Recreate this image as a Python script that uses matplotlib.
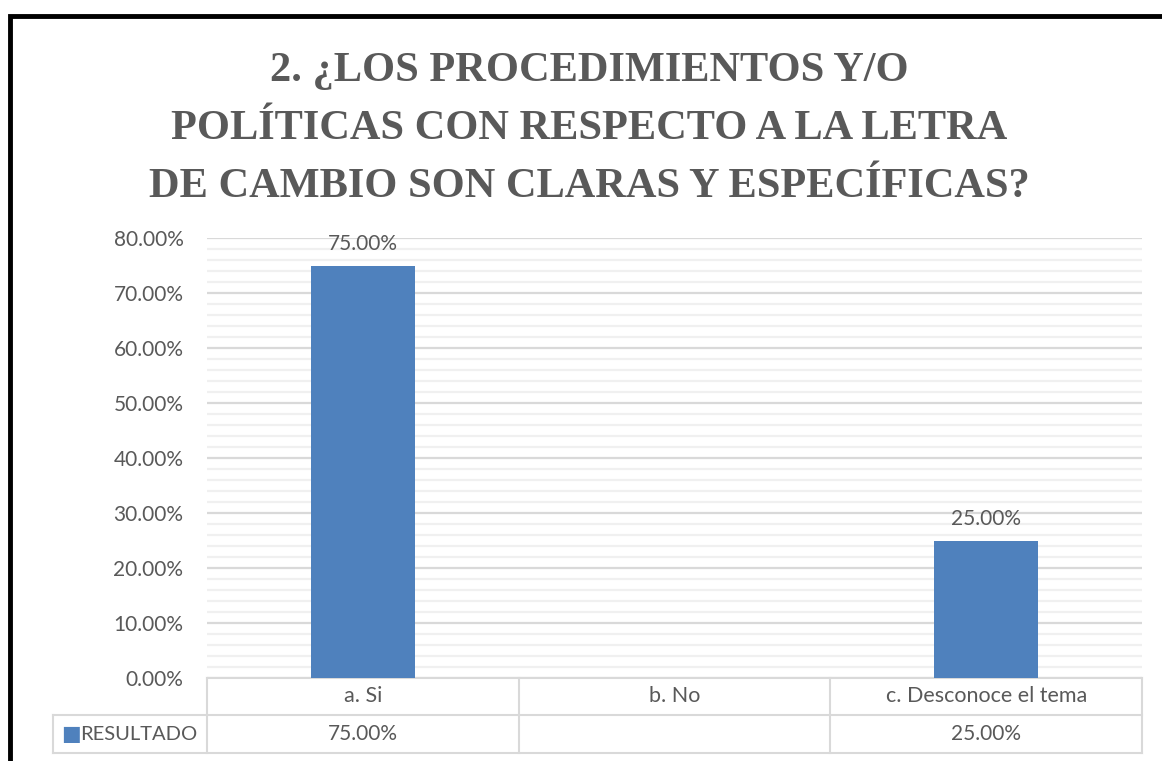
import matplotlib
matplotlib.use("Agg")
import matplotlib.pyplot as plt
from matplotlib.patches import Rectangle
from matplotlib.lines import Line2D
from matplotlib.ticker import MultipleLocator, FuncFormatter
import matplotlib.transforms as mtransforms

# data
title = "2. ¿LOS PROCEDIMIENTOS Y/O\nPOLÍTICAS CON RESPECTO A LA LETRA\nDE CAMBIO SON CLARAS Y ESPECÍFICAS?"
categories = ["a. Si", "b. No", "c. Desconoce el tema"]
values = [75.0, None, 25.0]
series_name = "RESULTADO"

bar_color = "#4f81bd"
text_color = "#595959"
grid_major = "#d9d9d9"
grid_minor = "#f0f0f0"
font = "Lato"

W, H = 1162, 761
fig = plt.figure(figsize=(W / 100, H / 100), dpi=100)
fig.patch.set_facecolor("white")

# black frame (only left and top edges fall inside the picture)
fig.add_artist(Rectangle((10 / W, -0.1), 1.2, 1 - 16 / H + 0.1, transform=fig.transFigure,
                         fill=False, edgecolor="black", linewidth=3.5))

# plot area in pixels
left, right, top, bottom = 207, 1142, 238, 678
ax = fig.add_axes([left / W, 1 - bottom / H, (right - left) / W, (bottom - top) / H])

for i, v in enumerate(values):
    if v is None:
        continue
    ax.bar(i, v, width=0.335, color=bar_color, zorder=3)
    ax.annotate(f"{v:.2f}%", (i, v), xytext=(0, 8), textcoords="offset points",
                ha="center", va="bottom", fontsize=15, color=text_color, family=font, zorder=4)

ax.set_xlim(-0.5, len(categories) - 0.5)
ax.set_ylim(0, 80)
ax.yaxis.set_major_locator(MultipleLocator(10))
ax.yaxis.set_minor_locator(MultipleLocator(2))
ax.yaxis.set_major_formatter(FuncFormatter(lambda v, p: f"{v:.2f}%"))
ax.grid(axis="y", which="major", color=grid_major, linewidth=1.6, zorder=1)
ax.grid(axis="y", which="minor", color=grid_minor, linewidth=1.6, zorder=1)
ax.set_xticks([])
ax.tick_params(axis="y", which="both", length=0, pad=17, labelsize=15, labelcolor=text_color)
for lab in ax.get_yticklabels():
    lab.set_family(font)
for s in ax.spines.values():
    s.set_visible(False)

# data table under the axis
tr = mtransforms.blended_transform_factory(ax.transData, ax.transAxes)
ph = bottom - top
r1 = -(715 - bottom) / ph
r2 = -(753 - bottom) / ph
leg_left = -0.5 - (left - 53) / ((right - left) / len(categories))
lc = grid_major
lw = 1.5
ax.add_line(Line2D([-0.5, 2.5], [0, 0], transform=tr, color=lc, lw=lw, clip_on=False))
ax.add_line(Line2D([leg_left, 2.5], [r1, r1], transform=tr, color=lc, lw=lw, clip_on=False))
ax.add_line(Line2D([leg_left, 2.5], [r2, r2], transform=tr, color=lc, lw=lw, clip_on=False))
for b in [-0.5, 0.5, 1.5, 2.5]:
    ax.add_line(Line2D([b, b], [0, r2], transform=tr, color=lc, lw=lw, clip_on=False))
ax.add_line(Line2D([leg_left, leg_left], [r1, r2], transform=tr, color=lc, lw=lw, clip_on=False))

for i, c in enumerate(categories):
    ax.text(i, r1 / 2, c, transform=tr, ha="center", va="center", fontsize=15.5,
            color=text_color, family=font)
    v = values[i]
    ax.text(i, (r1 + r2) / 2, "" if v is None else f"{v:.2f}%", transform=tr, ha="center",
            va="center", fontsize=15, color=text_color, family=font)

# legend key in the row header
ax.text(leg_left + 0.027, (r1 + r2) / 2, "\u25A0", transform=tr, ha="left", va="center",
        fontsize=15, color=bar_color, family="DejaVu Sans")
ax.text(leg_left + 0.088, (r1 + r2) / 2, series_name, transform=tr, ha="left", va="center",
        fontsize=14.5, color=text_color, family=font)

fig.text(589 / W, 1 - 129 / H, title, ha="center", va="center", fontsize=30.5,
         fontweight="bold", family="Liberation Serif", color=text_color, linespacing=1.68)

fig.savefig("out.png", dpi=100)
